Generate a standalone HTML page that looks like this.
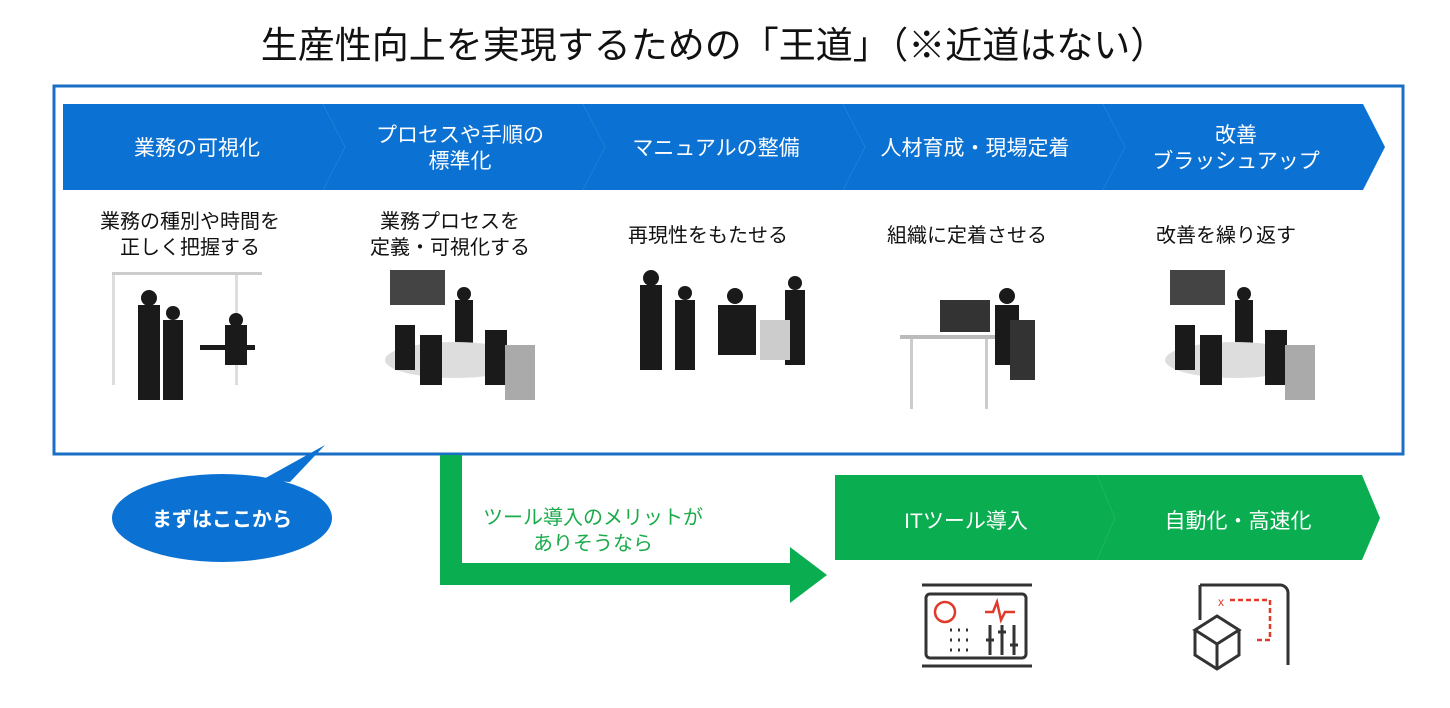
<!DOCTYPE html>
<html><head><meta charset="utf-8"><style>
body{margin:0;width:1450px;height:703px;background:#fff;overflow:hidden;font-family:"Liberation Sans","Noto Sans CJK JP",sans-serif}
</style></head><body>
<svg width="1450" height="703" viewBox="0 0 1450 703" xmlns="http://www.w3.org/2000/svg" font-family="Liberation Sans, Noto Sans CJK JP, sans-serif">
<text x="714" y="58" font-size="37" text-anchor="middle" fill="#111">生産性向上を実現するための「王道」（※近道はない）</text>
<rect x="54" y="86" width="1349" height="368" fill="none" stroke="#1a6fc4" stroke-width="3"/>
<g fill="#0b72d3">
<polygon points="63,104 323,104 345,147 323,190 63,190"/>
<polygon points="323,104 583,104 605,147 583,190 323,190 345,147"/>
<polygon points="583,104 843,104 865,147 843,190 583,190 605,147"/>
<polygon points="843,104 1103,104 1125,147 1103,190 843,190 865,147"/>
<polygon points="1103,104 1363,104 1385,147 1363,190 1103,190 1125,147"/>
</g>
<g fill="#fff" font-size="21" text-anchor="middle">
<text x="197" y="155">業務の可視化</text>
<text x="460" y="142">プロセスや手順の</text><text x="460" y="168">標準化</text>
<text x="716" y="155">マニュアルの整備</text>
<text x="975" y="155">人材育成・現場定着</text>
<text x="1236" y="142">改善</text><text x="1236" y="168">ブラッシュアップ</text>
</g>
<g fill="#111" font-size="20" text-anchor="middle">
<text x="190" y="228">業務の種別や時間を</text><text x="190" y="254">正しく把握する</text>
<text x="450" y="228">業務プロセスを</text><text x="450" y="254">定義・可視化する</text>
<text x="708" y="242">再現性をもたせる</text>
<text x="967" y="242">組織に定着させる</text>
<text x="1226" y="242">改善を繰り返す</text>
</g>
<g fill="#1a1a1a">
<rect x="112" y="272" width="150" height="3" fill="#ccc"/><rect x="112" y="275" width="3" height="110" fill="#ddd"/><rect x="235" y="275" width="3" height="110" fill="#ddd"/>
<rect x="138" y="305" width="22" height="95"/><circle cx="149" cy="298" r="8"/>
<rect x="163" y="320" width="20" height="80"/><circle cx="173" cy="313" r="7"/>
<rect x="200" y="345" width="55" height="5"/><rect x="225" y="325" width="22" height="40"/><circle cx="236" cy="320" r="7"/>
<rect x="390" y="270" width="55" height="35" fill="#444"/><rect x="455" y="300" width="18" height="45"/><circle cx="464" cy="294" r="7"/>
<ellipse cx="455" cy="360" rx="70" ry="18" fill="#ddd"/>
<rect x="395" y="325" width="20" height="45"/><rect x="420" y="335" width="22" height="50"/><rect x="485" y="330" width="22" height="55"/><rect x="505" y="345" width="30" height="55" fill="#aaa"/>
<rect x="640" y="285" width="22" height="85"/><circle cx="651" cy="278" r="8"/>
<rect x="675" y="300" width="20" height="70"/><circle cx="685" cy="293" r="7"/>
<rect x="718" y="305" width="38" height="50"/><circle cx="735" cy="296" r="8"/>
<rect x="785" y="290" width="20" height="75"/><circle cx="795" cy="283" r="7"/>
<rect x="760" y="320" width="30" height="40" fill="#ccc"/>
<rect x="940" y="300" width="50" height="32" fill="#333"/><rect x="900" y="335" width="100" height="4" fill="#bbb"/>
<rect x="910" y="339" width="3" height="70" fill="#ccc"/><rect x="985" y="339" width="3" height="70" fill="#ccc"/>
<rect x="995" y="305" width="24" height="60"/><circle cx="1007" cy="296" r="8"/><rect x="1010" y="320" width="25" height="60" fill="#333"/>
<rect x="1170" y="270" width="55" height="35" fill="#444"/><rect x="1235" y="300" width="18" height="45"/><circle cx="1244" cy="294" r="7"/>
<ellipse cx="1235" cy="360" rx="70" ry="18" fill="#ddd"/>
<rect x="1175" y="325" width="20" height="45"/><rect x="1200" y="335" width="22" height="50"/><rect x="1265" y="330" width="22" height="55"/><rect x="1285" y="345" width="30" height="55" fill="#aaa"/>
</g>
<path d="M290,482 L325,445 L262,480 Z" fill="#0b72d3"/>
<ellipse cx="222" cy="518" rx="110" ry="44" fill="#0b72d3"/>
<text x="222" y="526" font-size="20" font-weight="bold" fill="#fff" text-anchor="middle">まずはここから</text>
<g fill="#0aad4f">
<polygon points="440,455 462,455 462,563 790,563 790,547 827,575 790,603 790,585 440,585"/>
<polygon points="835,475 1097,475 1115,518 1097,560 835,560"/>
<polygon points="1097,475 1362,475 1380,518 1362,560 1097,560 1115,518"/>
</g>
<text x="593" y="524" font-size="20" fill="#1aab4a" text-anchor="middle">ツール導入のメリットが</text>
<text x="593" y="550" font-size="20" fill="#1aab4a" text-anchor="middle">ありそうなら</text>
<text x="966" y="528" font-size="21" fill="#fff" text-anchor="middle">ITツール導入</text>
<text x="1238" y="528" font-size="21" fill="#fff" text-anchor="middle">自動化・高速化</text>
<g stroke="#333" stroke-width="3" fill="none">
<line x1="922" y1="585" x2="1032" y2="585"/><line x1="922" y1="666" x2="1032" y2="666"/>
<rect x="926" y="594" width="100" height="64" rx="4"/>
<path d="M950,630 h2 M958,630 h2 M966,630 h2 M950,640 h2 M958,640 h2 M966,640 h2 M950,650 h2 M958,650 h2 M966,650 h2"/>
<path d="M990,625 v30 M1002,625 v30 M1014,625 v30 M986,640 h8 M998,632 h8 M1010,645 h8"/>
<path d="M1200,585 h80 a8,8 0 0 1 8,8 v72 M1200,585 v35"/>
<path d="M1195,630 l22,-14 l22,14 l-22,14 z M1195,630 v25 l22,14 l22,-14 v-25 M1217,644 v25"/>
</g>
<g stroke="#e03a2a" stroke-width="2.5" fill="none">
<circle cx="945" cy="612" r="10"/><path d="M985,612 h8 l4,-10 l4,18 l4,-8 h10"/>
<path d="M1230,600 h40 v40 h-15" stroke-dasharray="5,3"/>
</g>
<text x="1218" y="606" font-size="12" fill="#e03a2a">x</text>
</svg>
</body></html>
